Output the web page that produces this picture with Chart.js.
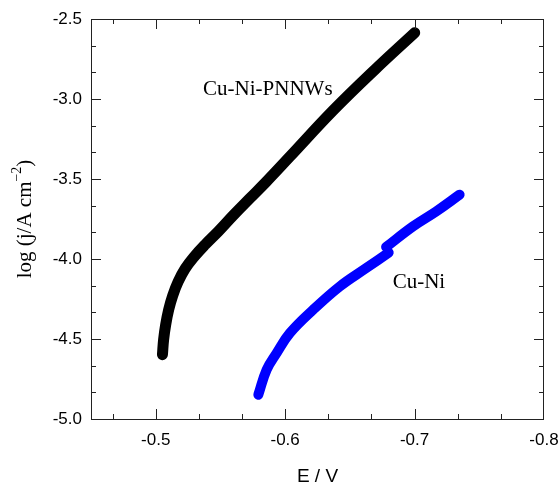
<!DOCTYPE html>
<html>
<head>
<meta charset="utf-8">
<script src="https://cdn.jsdelivr.net/npm/chart.js@4.4.1/dist/chart.umd.min.js"></script>
<style>
  html, body { margin: 0; padding: 0; background: #fff; }
  #wrap { width: 560px; height: 486px; }
</style>
</head>
<body>
<div id="wrap"><canvas id="tafel" width="560" height="486"></canvas></div>
<script>
// Tafel data
const pnnwE    = [-0.5052, -0.5061, -0.5077, -0.5100, -0.5131, -0.5173, -0.5227, -0.5297, -0.5381, -0.5482, -0.5597, -0.5729, -0.5857, -0.6037, -0.6369, -0.6693, -0.7001];
const pnnwLogJ = [-4.598, -4.504, -4.411, -4.317, -4.229, -4.142, -4.061, -3.986, -3.911, -3.829, -3.729, -3.620, -3.515, -3.360, -3.073, -2.817, -2.586];

const cuNiLowE    = [-0.5793, -0.5857, -0.5934, -0.6037, -0.6217, -0.6423, -0.6628, -0.6800];
const cuNiLowLogJ = [-4.848, -4.692, -4.588, -4.463, -4.317, -4.171, -4.056, -3.960];
const cuNiHighE    = [-0.6780, -0.6988, -0.7168, -0.7348];
const cuNiHighLogJ = [-3.925, -3.796, -3.702, -3.598];

const xTicks = [-0.5, -0.6, -0.7, -0.8];
const yTicks = [-5.0, -4.5, -4.0, -3.5, -3.0, -2.5];

const seriesLabels = ['Cu-Ni-PNNWs', 'Cu-Ni'];

const toPoints = (xs, ys) => xs.map((x, i) => ({ x: x, y: ys[i] }));

const tickFont = { family: 'Liberation Sans', size: 17 };

// frame with inward ticks on all four sides, axis title and curve labels
const framePlugin = {
  id: 'frame',
  afterDraw(chart) {
    const ctx = chart.ctx;
    const a = chart.chartArea;
    const sx = chart.scales.x;
    const sy = chart.scales.y;
    const major = 10, minor = 5;

    ctx.save();
    ctx.strokeStyle = '#222';
    ctx.lineWidth = 1;
    ctx.strokeRect(a.left + 0.5, a.top + 0.5, a.right - a.left - 1, a.bottom - a.top);

    ctx.beginPath();
    // x ticks: majors from xTicks, two minors in between
    const xs = [];
    for (let i = 0; i < xTicks.length; i++) {
      xs.push([xTicks[i], major]);
      for (let k = 1; k <= 2; k++) {
        const v = xTicks[i] + 0.1 * k / 3;
        xs.push([v, minor]);
      }
    }
    xs.forEach(([v, len]) => {
      const px = Math.round(sx.getPixelForValue(v)) + 0.5;
      if (px < a.left + 2 || px > a.right - 2) return;
      ctx.moveTo(px, a.bottom); ctx.lineTo(px, a.bottom - len);
      ctx.moveTo(px, a.top); ctx.lineTo(px, a.top + len);
    });
    const ys = [];
    for (let i = 0; i < yTicks.length; i++) {
      ys.push([yTicks[i], major]);
      for (let k = 1; k <= 2; k++) ys.push([yTicks[i] + 0.5 * k / 3, minor]);
    }
    ys.forEach(([v, len]) => {
      const py = Math.round(sy.getPixelForValue(v)) + 0.5;
      if (py < a.top + 2 || py > a.bottom - 2) return;
      ctx.moveTo(a.left, py); ctx.lineTo(a.left + len, py);
      ctx.moveTo(a.right, py); ctx.lineTo(a.right - len, py);
    });
    ctx.stroke();

    // y axis title with superscript
    ctx.fillStyle = '#000';
    const big = '21px "Liberation Serif"';
    const small = '14px "Liberation Serif"';
    ctx.font = big;
    const p1 = 'log (j/A cm';
    const p3 = ')';
    const w1 = ctx.measureText(p1).width;
    const w3 = ctx.measureText(p3).width;
    ctx.font = small;
    const p2 = '\u22122';
    const w2 = ctx.measureText(p2).width;
    const total = w1 + w2 + w3;
    ctx.translate(25, 219);
    ctx.rotate(-Math.PI / 2);
    ctx.textBaseline = 'middle';
    ctx.textAlign = 'left';
    let cx = -total / 2;
    ctx.font = big;
    ctx.fillText(p1, cx, 0); cx += w1;
    ctx.font = small;
    ctx.fillText(p2, cx, -8); cx += w2;
    ctx.font = big;
    ctx.fillText(p3, cx, 0);
    ctx.restore();

    // curve labels
    ctx.save();
    ctx.fillStyle = '#000';
    ctx.font = '21px "Liberation Serif"';
    ctx.textBaseline = 'middle';
    ctx.textAlign = 'left';
    ctx.fillText(seriesLabels[0], sx.getPixelForValue(-0.5366), sy.getPixelForValue(-2.942));
    ctx.fillText(seriesLabels[1], sx.getPixelForValue(-0.6831), sy.getPixelForValue(-4.148));
    ctx.restore();
  }
};

const lineStyle = {
  showLine: true,
  pointRadius: 0,
  borderWidth: 11,
  borderCapStyle: 'round',
  borderJoinStyle: 'round',
  tension: 0.4,
  fill: false
};

new Chart(document.getElementById('tafel'), {
  type: 'scatter',
  data: {
    datasets: [
      Object.assign({ label: seriesLabels[0], data: toPoints(pnnwE, pnnwLogJ), borderColor: '#000', backgroundColor: '#000' }, lineStyle),
      Object.assign({ label: seriesLabels[1], data: toPoints(cuNiLowE, cuNiLowLogJ), borderColor: '#0000ff', backgroundColor: '#0000ff' }, lineStyle, { borderWidth: 10 }),
      Object.assign({ label: seriesLabels[1] + ' (b)', data: toPoints(cuNiHighE, cuNiHighLogJ), borderColor: '#0000ff', backgroundColor: '#0000ff' }, lineStyle, { borderWidth: 10 })
    ]
  },
  options: {
    responsive: false,
    animation: false,
    layout: { padding: { top: 19, right: 16, left: 0, bottom: 0 } },
    plugins: {
      legend: { display: false },
      tooltip: { enabled: false }
    },
    scales: {
      x: {
        type: 'linear',
        min: -0.8,
        max: -0.45,
        reverse: true,
        grid: { display: false, drawTicks: false },
        border: { display: false },
        afterBuildTicks: s => { s.ticks = xTicks.map(v => ({ value: v })); },
        afterFit: s => { s.height = 67; s.paddingLeft = 0; s.paddingRight = 0; },
        ticks: {
          color: '#000',
          font: tickFont,
          padding: 11,
          maxRotation: 0,
          callback: v => v.toFixed(1)
        },
        title: {
          display: true,
          text: 'E / V',
          color: '#000',
          font: { family: 'Liberation Sans', size: 19, lineHeight: 1 },
          padding: 0
        }
      },
      y: {
        type: 'linear',
        min: -5.0,
        max: -2.5,
        grid: { display: false, drawTicks: false },
        border: { display: false },
        afterBuildTicks: s => { s.ticks = yTicks.map(v => ({ value: v })); },
        afterFit: s => { s.width = 91; s.paddingTop = 0; s.paddingBottom = 0; },
        ticks: {
          color: '#000',
          font: tickFont,
          padding: 9,
          callback: v => v.toFixed(1)
        }
      }
    }
  },
  plugins: [framePlugin]
});
</script>
</body>
</html>
